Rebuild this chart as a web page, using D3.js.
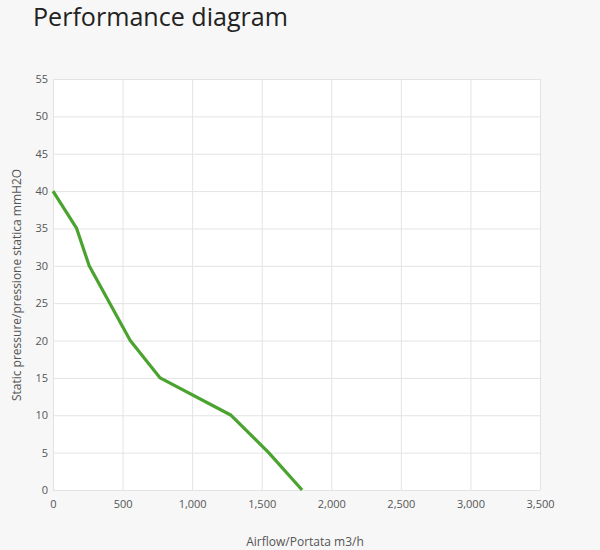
<!DOCTYPE html>
<html><head><meta charset="utf-8">
<script src="https://cdn.jsdelivr.net/npm/d3@7"></script>
<style>
body{margin:0;background:#f7f7f7;}
svg{display:block;}
</style></head>
<body>
<svg id="c" width="600" height="550"></svg>
<script>
const airflow = [0, 170, 260, 555, 770, 1280, 1550, 1790];
const pressure = [40, 35, 30, 20, 15, 10, 5, 0];
const xTicks = [0, 500, 1000, 1500, 2000, 2500, 3000, 3500];
const yTicks = [0, 5, 10, 15, 20, 25, 30, 35, 40, 45, 50, 55];
const title = "Performance diagram";
const xTitle = "Airflow/Portata m3/h";
const yTitle = "Static pressure/pressione statica mmH2O";

const svg = d3.select("#c");
const m = {l:53, r:540, t:79, b:490};
const x = d3.scaleLinear().domain([0,3500]).range([m.l, m.r]);
const y = d3.scaleLinear().domain([0,55]).range([m.b, m.t]);
const font = "'Open Sans', sans-serif";

svg.append("rect").attr("x",0).attr("y",0).attr("width",600).attr("height",550).attr("fill","#f7f7f7");
svg.append("rect").attr("x",m.l).attr("y",m.t).attr("width",m.r-m.l).attr("height",m.b-m.t).attr("fill","#fff");

// gridlines
svg.append("g").selectAll("line").data(xTicks).join("line")
  .attr("x1",d=>x(d)+0.5).attr("x2",d=>x(d)+0.5).attr("y1",m.t).attr("y2",m.b)
  .attr("stroke","#e3e3e3").attr("stroke-width",1);
svg.append("g").selectAll("line").data(yTicks).join("line")
  .attr("y1",d=>y(d)+0.5).attr("y2",d=>y(d)+0.5).attr("x1",m.l).attr("x2",m.r)
  .attr("stroke","#e3e3e3").attr("stroke-width",1);

// axes
const fmt = d3.format(",");
const xAxis = svg.append("g").attr("transform",`translate(0,${m.b})`)
  .call(d3.axisBottom(x).tickValues(xTicks).tickFormat(fmt).tickSize(0).tickPadding(10));
const yAxis = svg.append("g").attr("transform",`translate(${m.l},0)`)
  .call(d3.axisLeft(y).tickValues(yTicks).tickSize(0).tickPadding(5));
[xAxis,yAxis].forEach(a=>{
  a.select(".domain").remove();
  a.selectAll("text").attr("fill","#555").style("font-family",font).style("font-size","11px");
});

// line
svg.append("path").datum(airflow.map((a,i)=>[a,pressure[i]]))
  .attr("fill","none").attr("stroke","#4aa32e").attr("stroke-width",3.2)
  .attr("stroke-linejoin","round")
  .attr("d", d3.line().x(d=>x(d[0])).y(d=>y(d[1])));

// titles
const t = svg.append("text").attr("x",33).attr("y",26).text(title)
  .attr("fill","#222").style("font-family",font).style("font-size","26px");
const w = t.node().getComputedTextLength();
t.style("font-size", (26*255/w).toFixed(2)+"px");

svg.append("text").attr("x",305).attr("y",546).attr("text-anchor","middle").text(xTitle)
  .attr("fill","#555").style("font-family",font).style("font-size","12px");
svg.append("text").attr("transform","translate(21,285) rotate(-90)").attr("text-anchor","middle").text(yTitle)
  .attr("fill","#555").style("font-family",font).style("font-size","12px");
</script>
</body></html>
